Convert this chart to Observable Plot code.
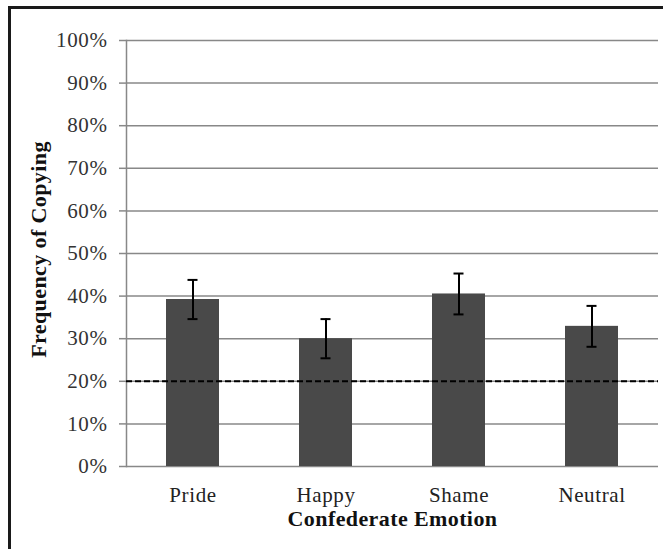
<!DOCTYPE html>
<html>
<head>
<meta charset="utf-8">
<script src="https://cdn.jsdelivr.net/npm/d3@7"></script>
<script src="https://cdn.jsdelivr.net/npm/@observablehq/plot@0.6"></script>
<style>
  html, body { margin: 0; padding: 0; background: #fff; overflow: hidden; }
  #wrap { position: relative; width: 667px; height: 549px; }
  #border { position: absolute; left: 8px; top: 6px; width: 652px; height: 600px;
            border-top: 3px solid #1a1a1a; border-left: 3px solid #1a1a1a; pointer-events: none; }
  #chart { position: absolute; left: 0; top: 0; }
  #chart svg text { font-family: "Liberation Serif", "Times New Roman", serif !important; font-variant: normal !important; }
  #chart svg .ticklab text { letter-spacing: 0.6px; }
  #chart svg .title text { letter-spacing: 0.4px; }
</style>
</head>
<body>
<div id="wrap"><div id="chart"></div><div id="border"></div></div>
<script>
const categories = ["Pride", "Happy", "Shame", "Neutral"];
const means = [0.392, 0.300, 0.405, 0.329];
const errors = [0.046, 0.046, 0.048, 0.048];
const yTicks = [0, 0.1, 0.2, 0.3, 0.4, 0.5, 0.6, 0.7, 0.8, 0.9, 1.0];
const chanceLevel = [0.2];
const xTitle = "Confederate Emotion";
const yTitle = "Frequency of Copying";

const data = categories.map((c, i) => ({cat: c, v: means[i], lo: means[i] - errors[i], hi: means[i] + errors[i]}));
const serif = "Liberation Serif, Times New Roman, serif";

const chart = Plot.plot({
  width: 667,
  height: 549,
  marginLeft: 126,
  marginRight: 9,
  marginTop: 40,
  marginBottom: 83,
  style: {fontFamily: serif, fontSize: "21px", color: "#333", background: "transparent"},
  x: {domain: categories, paddingInner: 0.6, paddingOuter: 0.3, label: null},
  y: {domain: [0, 1], label: null},
  marks: [
    Plot.ruleY(yTicks, {stroke: "#888", strokeWidth: 1.5}),
    Plot.frame({anchor: "left", stroke: "#888", strokeWidth: 1.5}),
    Plot.axisY({ticks: yTicks, tickFormat: d3.format(".0%"), tickSize: 7, tickPadding: 12,
      stroke: "#888", strokeWidth: 1.5, fill: "#333", fontSize: 21, label: null, className: "ticklab"}),
    Plot.axisX({tickSize: 0, tickPadding: 21, fill: "#222", fontSize: 21, label: null, className: "ticklab"}),
    Plot.barY(data, {x: "cat", y: "v", fill: "#494949"}),
    Plot.ruleY(chanceLevel, {stroke: "#000", strokeWidth: 2, strokeDasharray: "6,3"}),
    Plot.ruleX(data, {x: "cat", y1: "lo", y2: "hi", stroke: "#000", strokeWidth: 2}),
    Plot.tickY(data, {x: "cat", y: "lo", stroke: "#000", strokeWidth: 2, inset: 21.5}),
    Plot.tickY(data, {x: "cat", y: "hi", stroke: "#000", strokeWidth: 2, inset: 21.5}),
    Plot.text([xTitle], {frameAnchor: "bottom", dy: 59, fontWeight: "bold", fontSize: 22, fill: "#111", className: "title"}),
    Plot.text([yTitle], {frameAnchor: "left", textAnchor: "middle", rotate: -90, dx: -88, dy: -4, fontWeight: "bold", fontSize: 22, fill: "#111", className: "title"})
  ]
});
document.getElementById("chart").appendChild(chart);
</script>
</body>
</html>
